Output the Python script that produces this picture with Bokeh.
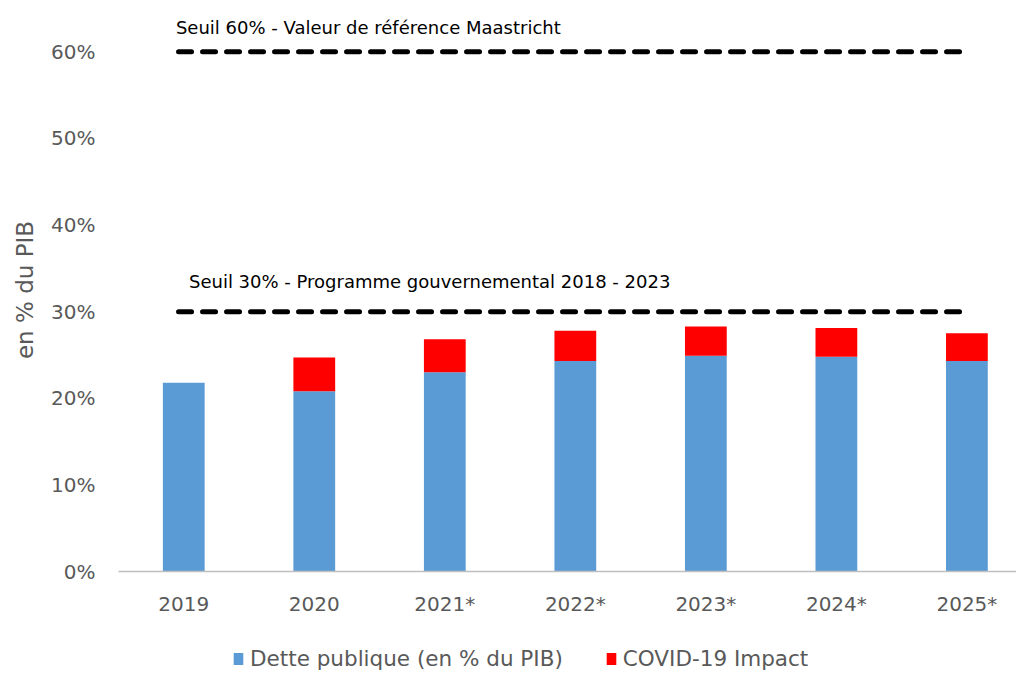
from bokeh.plotting import figure
from bokeh.layouts import column
from bokeh.models import ColumnDataSource, FixedTicker, Legend, LegendItem
from bokeh.core.properties import value
from bokeh.embed import file_html
from bokeh.resources import INLINE

# ---- data ----
years = ["2019", "2020", "2021*", "2022*", "2023*", "2024*", "2025*"]
dette = [21.8, 20.8, 23.0, 24.3, 24.9, 24.8, 24.3]
covid = [0.0, 3.9, 3.8, 3.5, 3.4, 3.3, 3.2]
series_names = ["Dette publique (en % du PIB)", "COVID-19 Impact"]
seuils = [60, 30]
seuil_labels = ["Seuil 60% - Valeur de référence Maastricht",
                "Seuil 30% - Programme gouvernemental 2018 - 2023"]
y_ticks = [0, 10, 20, 30, 40, 50, 60]

FONT = "DejaVu Sans"
GREY = "#595959"
BLUE = "#5B9BD5"
RED = "#FF0000"

idx = list(range(len(years)))
src = ColumnDataSource(dict(x=idx, dette=dette, covid=covid))

p = figure(width=1016, height=618, output_backend="svg", toolbar_location=None,
           x_range=(-0.5, 6.38), y_range=(0, 65),
           min_border_left=118, min_border_right=0, min_border_top=8, min_border_bottom=47)
p.outline_line_color = None
p.xgrid.visible = False
p.ygrid.visible = False

p.vbar_stack(["dette", "covid"], x="x", width=0.32, color=[BLUE, RED],
             line_color=None, source=src)

# threshold lines
for s, lab, off, yo in zip(seuils, seuil_labels, [-0.06, 0.04], [-24, -30]):
    p.line(x=[idx[0] - 0.04, idx[-1] - 0.05], y=[s, s], line_color="black",
           line_width=5, line_dash="13 11", line_cap="round")
    p.text(x=[idx[0] + off], y=[s], text=[lab], text_font=value(FONT),
           text_font_size="18px", text_color="black", text_baseline="middle",
           y_offset=yo)

# axes
p.xaxis.ticker = FixedTicker(ticks=idx)
p.xaxis.major_label_overrides = {i: y for i, y in zip(idx, years)}
p.xaxis.axis_line_color = "#BFBFBF"
p.xaxis.axis_line_width = 1.5
p.xaxis.major_tick_line_color = None
p.xaxis.minor_tick_line_color = None
p.xaxis.major_tick_out = 0
p.xaxis.major_label_standoff = 20
p.xaxis.major_label_text_font = FONT
p.xaxis.major_label_text_font_size = "20px"
p.xaxis.major_label_text_color = GREY

p.yaxis.ticker = FixedTicker(ticks=y_ticks)
p.yaxis.major_label_overrides = {t: f"{t}%" for t in y_ticks}
p.yaxis.axis_line_color = None
p.yaxis.major_tick_line_color = None
p.yaxis.minor_tick_line_color = None
p.yaxis.major_tick_out = 0
p.yaxis.major_label_standoff = 23
p.yaxis.major_label_text_font = FONT
p.yaxis.major_label_text_font_size = "20px"
p.yaxis.major_label_text_color = GREY
p.yaxis.axis_label = "en % du PIB"
p.yaxis.axis_label_text_font = FONT
p.yaxis.axis_label_text_font_size = "23px"
p.yaxis.axis_label_text_font_style = "normal"
p.yaxis.axis_label_text_color = GREY
p.yaxis.axis_label_standoff = 10

# legend strip (hidden proxy renderers supply the swatch colours)
p2 = figure(width=1016, height=53, output_backend="svg", toolbar_location=None,
            x_range=(0, 1), y_range=(0, 1),
            min_border_left=0, min_border_right=0, min_border_top=0, min_border_bottom=0)
p2.axis.visible = False
p2.grid.visible = False
p2.outline_line_color = None
r1 = p2.vbar(x=[0], top=[1], width=1, color=BLUE, line_color=None, visible=False)
r2 = p2.vbar(x=[0], top=[1], width=1, color=RED, line_color=None, visible=False)
legend = Legend(items=[LegendItem(label=series_names[0], renderers=[r1]),
                       LegendItem(label=series_names[1], renderers=[r2])],
                orientation="horizontal", location=(114, 0),
                label_text_font=FONT, label_text_font_size="21.5px",
                label_text_color=GREY, glyph_width=12, glyph_height=15,
                spacing=42, padding=0, margin=0, label_standoff=6,
                background_fill_alpha=0, border_line_color=None)
p2.add_layout(legend, "center")

open("out.html", "w").write(file_html(column(p, p2), INLINE))
